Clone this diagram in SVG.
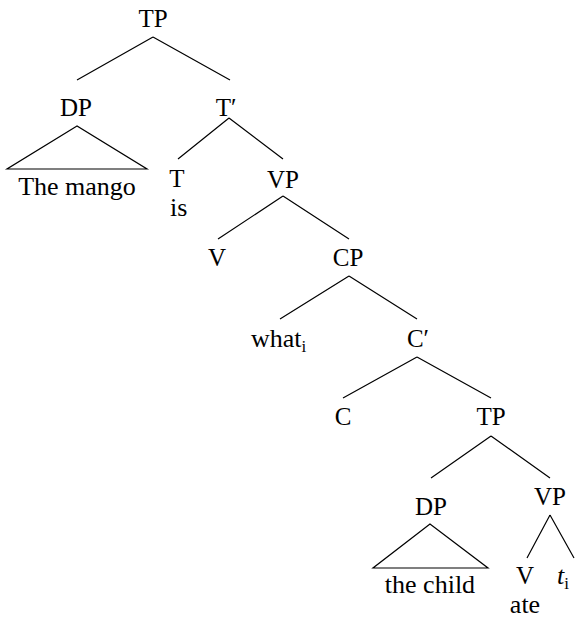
<svg xmlns="http://www.w3.org/2000/svg" width="582" height="620" viewBox="0 0 582 620">
<style>
text{font-family:"Liberation Serif","DejaVu Serif",serif;font-size:25px;fill:#000;text-anchor:middle}
.w{font-size:26px}
.l{stroke:#000;stroke-width:1.2;fill:none}
.sub{font-size:17px}
.s{text-anchor:start}
</style>
<rect width="582" height="620" fill="#fff"/>
<g id="connectors">
<path class="l" d="M153,37 L77,80 M153,37 L230,80"/>
<path class="l" d="M77,126 L7,169 L147,169 Z"/>
<path class="l" d="M229,118 L178,159 M229,118 L283,159"/>
<path class="l" d="M283,196 L218,239 M283,196 L349,239"/>
<path class="l" d="M349,276 L280,319 M349,276 L417,319"/>
<path class="l" d="M417,357 L343,398 M417,357 L491,398"/>
<path class="l" d="M491,436 L431,478 M491,436 L550,478"/>
<path class="l" d="M430,524 L373,568 L488,568 Z"/>
<path class="l" d="M550,515 L527,558 M550,515 L574,558"/>
</g>
<g id="tp1"><text x="153" y="27">TP</text></g>
<g id="dp1"><text x="76" y="116">DP</text><text class="w" x="77" y="195">The mango</text></g>
<g id="tbar"><text x="226" y="116">T′</text></g>
<g id="t"><text x="177" y="187">T</text><text class="s w" x="170" y="216">is</text></g>
<g id="vp1"><text x="283" y="188">VP</text></g>
<g id="v1"><text x="217" y="266">V</text></g>
<g id="cp"><text x="348" y="266">CP</text></g>
<g id="what"><text class="s w" x="251" y="347">what<tspan class="sub" dy="5">i</tspan></text></g>
<g id="cbar"><text x="418" y="347">C′</text></g>
<g id="c"><text x="343" y="425">C</text></g>
<g id="tp2"><text x="491" y="425">TP</text></g>
<g id="dp2"><text x="431" y="515">DP</text><text class="w" x="430" y="593">the child</text></g>
<g id="vp2"><text x="550" y="505">VP</text></g>
<g id="v2"><text x="525" y="584">V</text><text class="w" x="525" y="613">ate</text></g>
<g id="trace"><text class="s w" x="557" y="584"><tspan font-style="italic">t</tspan><tspan class="sub" dy="5">i</tspan></text></g>
</svg>
